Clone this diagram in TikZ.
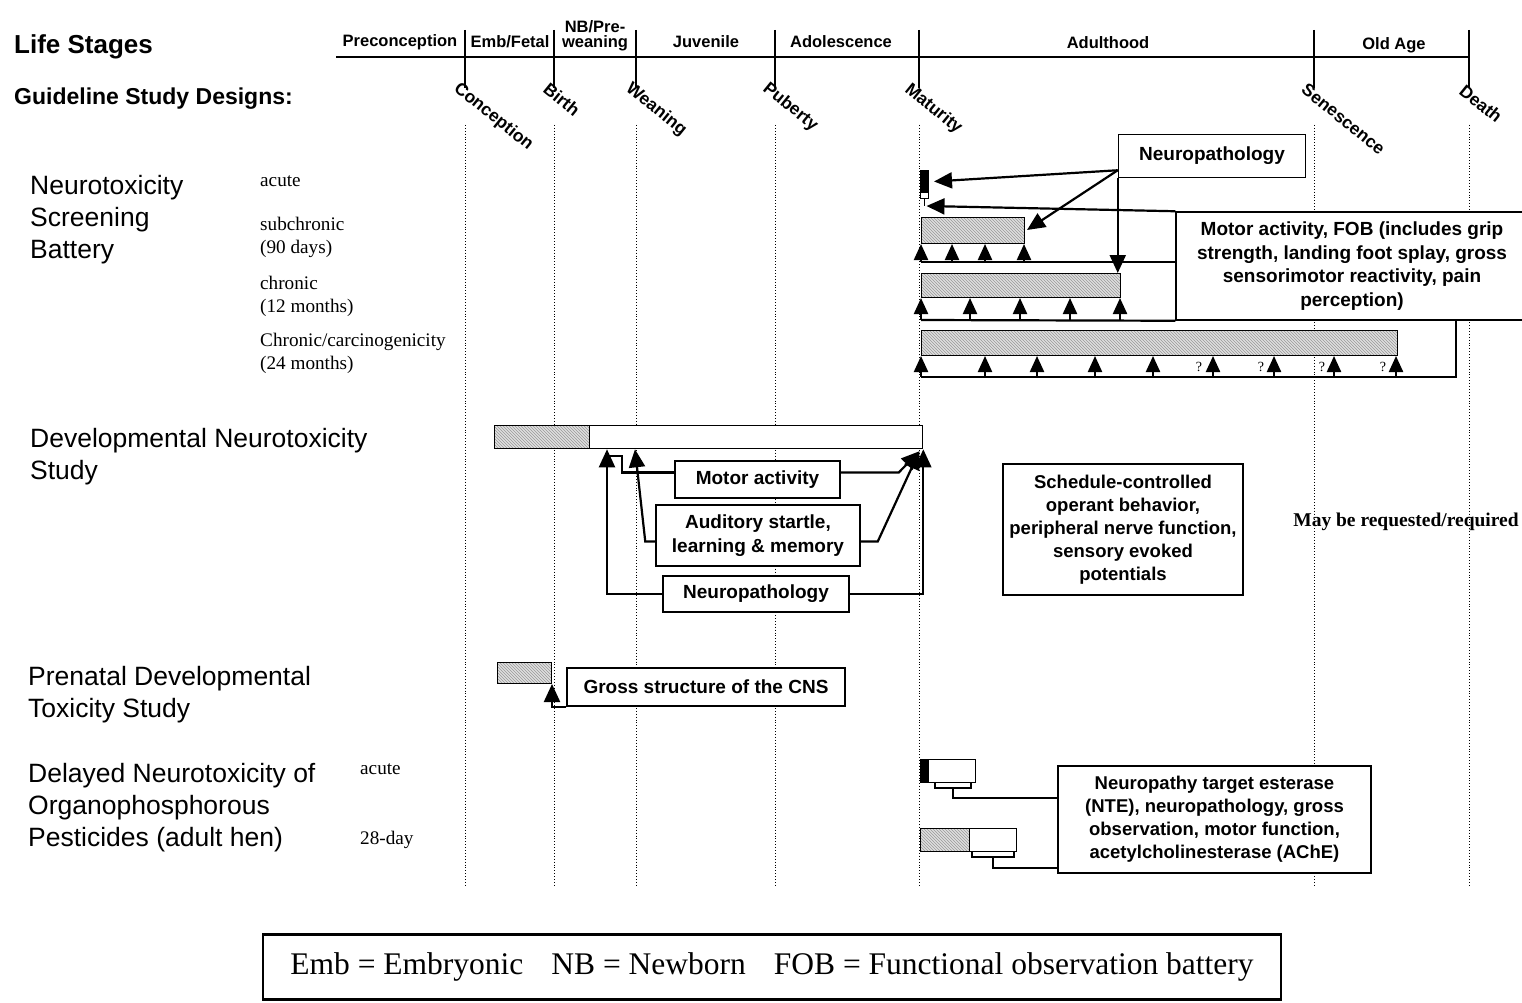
\documentclass[tikz,border=0pt]{standalone}
\usepackage{fontspec}
\setmainfont{Liberation Serif}
\newfontfamily\arialf{Liberation Sans}
\usetikzlibrary{arrows.meta,patterns,calc}
\begin{document}
\begin{tikzpicture}[x=1pt,y=-1pt,
  stagelbl/.style={font=\arialf\bfseries\fontsize{16.5}{17}\selectfont, inner sep=0pt, align=center},
  evtlbl/.style={font=\arialf\bfseries\fontsize{17.5}{18}\selectfont, inner sep=0pt, anchor=north west, rotate=-39},
  tickline/.style={line width=1.6pt},
  gridline/.style={dotted, line width=0.9pt},
  biglbl/.style={font=\arialf\fontsize{26.5}{32}\selectfont, align=left, inner sep=0pt, anchor=north west},
  sublbl/.style={font=\fontsize{19.2}{23}\selectfont, inner sep=0pt, anchor=base west},
  tbox/.style={draw, line width=1.5pt, fill=white, font=\arialf\bfseries\fontsize{19}{23.5}\selectfont, align=center, inner sep=0pt},
  hbar/.style={draw, line width=1pt, preaction={fill=gray!25}, pattern=north west lines, pattern color=gray!80, inner sep=0pt, anchor=north west},
  wbar/.style={draw, line width=1.3pt, fill=white, inner sep=0pt, anchor=north west},
  kbar/.style={draw, line width=1pt, fill=black, inner sep=0pt, anchor=north west},
  conn/.style={line width=2.2pt},
  uparr/.style={line width=2.2pt, -{Triangle[length=16pt,width=14pt]}},
  bigarr/.style={line width=2.2pt, -{Triangle[length=18pt,width=16pt]}},
  qm/.style={font=\fontsize{14}{14}\selectfont, inner sep=0pt},
]
\fill[white] (0,0) rectangle (1522,1003);
\useasboundingbox (0,0) rectangle (1522,1003);

% ---------------- headings
\node[font=\arialf\bfseries\fontsize{26}{28}\selectfont, anchor=west, inner sep=0pt] (lifestages) at (14,47) {Life Stages};
\node[font=\arialf\bfseries\fontsize{23}{26}\selectfont, anchor=west, inner sep=0pt] (guide) at (14,99) {Guideline Study Designs:};

% ---------------- timeline
\draw[tickline] (336,57) -- (1469,57);
\foreach \x in {465,554,636,775,919,1314,1469} \draw[tickline] (\x,30) -- (\x,88);
\node[stagelbl] (sPre) at (400,42) {Preconception};
\node[stagelbl] (sEmb) at (510,42) {Emb/Fetal};
\node[stagelbl] (sNB1) at (595,27) {NB/Pre-};
\node[stagelbl] (sNB2) at (595,43) {weaning};
\node[stagelbl] (sJuv) at (706,42) {Juvenile};
\node[stagelbl] (sAdo) at (841,42) {Adolescence};
\node[stagelbl] (sAdu) at (1108,43) {Adulthood};
\node[stagelbl] (sOld) at (1394,45) {Old Age};

\node[evtlbl] (eCon) at (461,80) {Conception};
\node[evtlbl] (eBir) at (550,81) {Birth};
\node[evtlbl] (eWea) at (633,80) {Weaning};
\node[evtlbl] (ePub) at (770,80) {Puberty};
\node[evtlbl] (eMat) at (912,81) {Maturity};
\node[evtlbl] (eSen) at (1308,82) {Senescence};
\node[evtlbl] (eDea) at (1466,83) {Death};

\foreach \x in {465,554,636,775,919,1314,1469} \draw[gridline] (\x,125) -- (\x,885);

% ---------------- Neurotoxicity screening battery
\node[biglbl] (lNSB) at (30,175) {Neurotoxicity\\Screening\\Battery};
\node[sublbl] (lac) at (260,186) {acute};
\node[sublbl] (lsub1) at (260,230) {subchronic};
\node[sublbl] (lsub2) at (260,253) {(90 days)};
\node[sublbl] (lchr1) at (260,289) {chronic};
\node[sublbl] (lchr2) at (260,312) {(12 months)};
\node[sublbl] (lcar1) at (260,346) {Chronic/carcinogenicity};
\node[sublbl] (lcar2) at (260,369) {(24 months)};

\node[kbar, minimum width=8pt, minimum height=22pt] (acbar) at (920,170) {};
\node[wbar, line width=1pt, minimum width=8pt, minimum height=6pt] (acwhite) at (920,192) {};
\draw[line width=1.2pt] (acwhite.south) -- ++(0,7) coordinate (acstem);
\node[hbar, minimum width=103pt, minimum height=26pt] (subbar) at (921,217) {};
\node[hbar, minimum width=199pt, minimum height=24pt] (chrbar) at (921,273) {};
\node[hbar, minimum width=476pt, minimum height=25pt] (carbar) at (921,330) {};

\node[tbox, minimum width=187pt, minimum height=43pt] (np1) at (1212,156) {Neuropathology};
\node[tbox, minimum width=352pt, minimum height=108pt] (fob) at (1352,266) {Motor activity, FOB (includes grip\\strength, landing foot splay, gross\\sensorimotor reactivity, pain\\perception)};

\coordinate (npo) at ($(np1.south west)+(0,-8)$);
\draw[bigarr] (npo) -- ($(acbar.east)+(5,0)$);
\draw[bigarr] (npo) -- ($(subbar.north east)+(2,13)$);
\draw[bigarr] (np1.south west) -- (np1.south west |- chrbar.north);
\draw[bigarr] (fob.north west) -- ($(acstem)+(2,0)$);

\foreach \x in {921,952,985,1024} \draw[uparr] (\x,262) -- (\x,262 |- subbar.south);
\draw[conn] (921,262) -- (1176,262);
\foreach \x in {921,970,1020,1070,1120} \draw[uparr] (\x,320) -- (\x,320 |- chrbar.south);
\draw[conn] (921,320) -- (fob.south west);
\foreach \x in {921,985,1037,1095,1153,1213,1274,1334,1396} \draw[uparr] (\x,377) -- (\x,377 |- carbar.south);
\draw[conn] (921,377) -- (1456,377) -- (1456,377 |- fob.south);
\node[qm] (q1) at (1199,367) {?};
\node[qm] (q2) at (1261,367) {?};
\node[qm] (q3) at (1322,367) {?};
\node[qm] (q4) at (1383,367) {?};

% ---------------- Developmental neurotoxicity study
\node[biglbl] (lDNT) at (30,428) {Developmental Neurotoxicity\\Study};
\node[hbar, minimum width=95pt, minimum height=23pt] (dnth) at (494,425) {};
\node[wbar, minimum width=333pt, minimum height=23pt] (dntw) at (589,425) {};

\node[tbox, minimum width=165pt, minimum height=37pt] (dntmot) at (757.5,479.5) {Motor activity};
\node[tbox, minimum width=204pt, minimum height=61pt] (dntaud) at (758,535.5) {Auditory startle,\\learning \& memory};
\node[tbox, minimum width=186pt, minimum height=36pt] (dntnp) at (756,594) {Neuropathology};

\draw[bigarr] (dntnp.west) -| ($(dntw.south west)+(18,0)$);
\draw[conn] ($(dntmot.west)+(0,-7)$) -| (622,456) -- (607,456);
\draw[bigarr] ($(dntaud.west)+(0,6)$) -- ++(-10,0) -- ($(dntw.south west)+(46,0)$);
\draw[bigarr] ($(dntmot.east)+(0,-7)$) -- ++(58,0) -- ($(dntw.south east)+(-4,2)$);
\draw[bigarr] ($(dntaud.east)+(0,6)$) -- ++(17,0) -- ($(dntw.south east)+(-4,2)$);
\draw[bigarr] (dntnp.east) -| (dntw.south east);

\node[tbox, minimum width=240pt, minimum height=131pt, font=\arialf\bfseries\fontsize{18.5}{23}\selectfont] (sched) at (1123,529.5) {Schedule-controlled\\operant behavior,\\peripheral nerve function,\\sensory evoked\\potentials};
\node[font=\bfseries\fontsize{19.5}{20}\selectfont, inner sep=0pt] (may) at (1406,522) {May be requested/required};

% ---------------- Prenatal developmental toxicity study
\node[biglbl] (lPDT) at (28,666) {Prenatal Developmental\\Toxicity Study};
\node[hbar, minimum width=54pt, minimum height=21pt] (prh) at (497,662) {};
\node[tbox, minimum width=278pt, minimum height=38pt] (gross) at (706,687) {Gross structure of the CNS};
\draw[bigarr] (gross.south west) -| (prh.south east);

% ---------------- Delayed neurotoxicity
\node[biglbl] (lDN) at (28,763) {Delayed Neurotoxicity of\\Organophosphorous\\Pesticides (adult hen)};
\node[sublbl] (lda) at (360,774) {acute};
\node[sublbl] (ld28) at (360,844) {28-day};

\node[kbar, minimum width=8pt, minimum height=23pt] (dak) at (920,759) {};
\node[wbar, minimum width=47pt, minimum height=23pt] (daw) at (928,759) {};
\node[hbar, minimum width=49pt, minimum height=23pt] (d28h) at (920,828) {};
\node[wbar, minimum width=47pt, minimum height=23pt] (d28w) at (969,828) {};

\node[tbox, minimum width=313pt, minimum height=107pt, font=\arialf\bfseries\fontsize{18.5}{23}\selectfont] (nte) at (1214.5,819.5) {Neuropathy target esterase\\(NTE), neuropathology, gross\\observation, motor function,\\acetylcholinesterase (AChE)};

\draw[line width=1.5pt] (935,782) -- (935,788) -- (971,788) -- (971,782);
\draw[conn] (953,788) -- (953,798) -- (nte.west |- 0,798);
\draw[line width=1.5pt] (972,851) -- (972,857) -- (1014,857) -- (1014,851);
\draw[conn] (993,857) -- (993,868) -- (nte.west |- 0,868);

% ---------------- legend
\node[draw, line width=2.5pt, minimum width=1018pt, minimum height=65pt, font=\fontsize{31.5}{31}\selectfont, inner sep=0pt] (legend) at (772,967) {Emb = Embryonic\hspace{28pt}NB = Newborn\hspace{28pt}FOB = Functional observation battery};
\end{tikzpicture}
\end{document}
